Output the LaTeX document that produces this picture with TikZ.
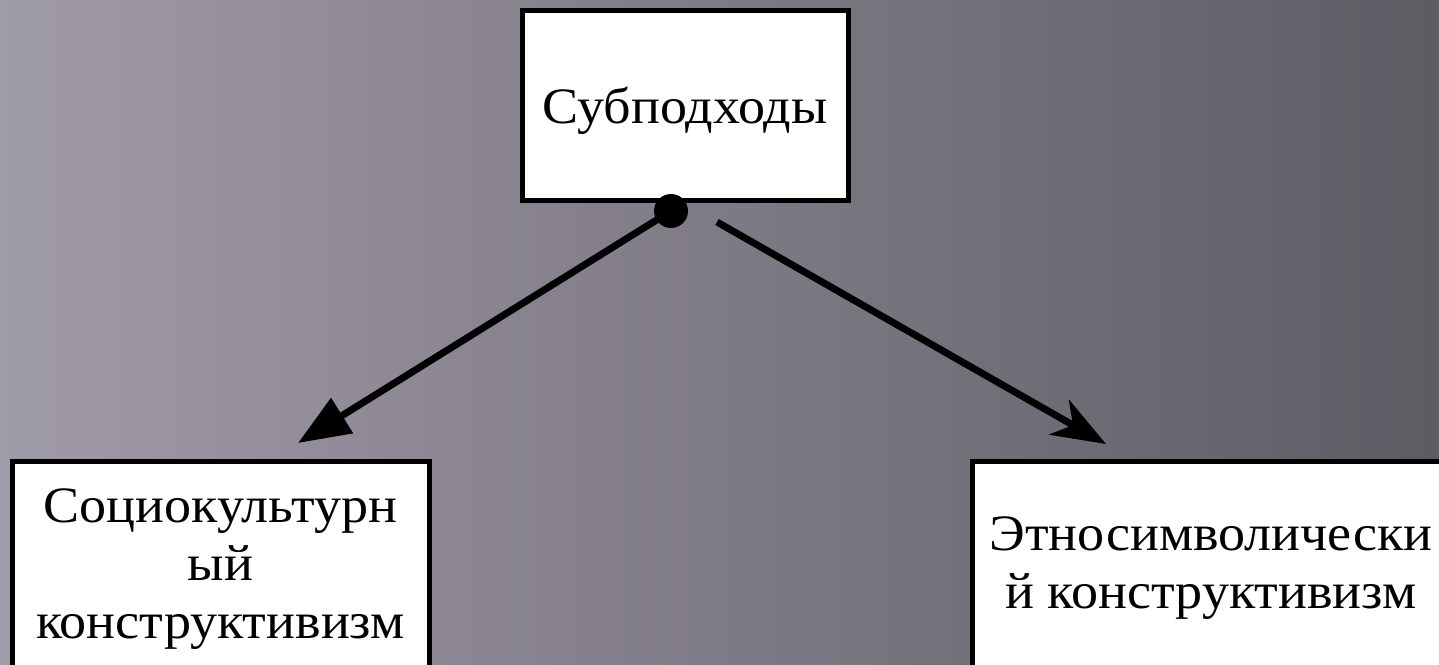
\documentclass[tikz,border=0pt]{standalone}
\usepackage{fontspec}
\setmainfont{Liberation Serif}[FakeStretch=1.06]
\usetikzlibrary{arrows.meta}
\definecolor{bgL}{RGB}{160,155,168}
\definecolor{bgM}{RGB}{122,117,128}
\definecolor{bgR}{RGB}{94,91,99}
\tikzset{
  box/.style={draw=black, fill=white, line width=5pt, inner sep=0pt, align=center,
    font=\fontsize{51pt}{58pt}\selectfont},
  conn/.style={line width=7pt, draw=black},
}
\begin{document}
\begin{tikzpicture}[x=1pt, y=-1pt]
\useasboundingbox (0,0) rectangle (1439,664);
\clip (0,0) rectangle (1439,664);
\shade[left color=bgL, middle color=bgM, right color=bgR] (0,0) rectangle (1439,664);
\node[box, minimum width=326pt, minimum height=190pt, text height=40pt, text depth=4pt] (top) at (685,105) {Субподходы};
\node[box, minimum width=417pt, minimum height=216pt] (left) at (220.5,569) {Социокультурн\\ый\\конструктивизм};
\node[box, minimum width=478pt, minimum height=214pt] (right) at (1211,568) {Этносимволически\\й конструктивизм};
\node[circle, fill=black, inner sep=0pt, minimum size=34pt] (dot) at (671,211) {};
\coordinate (ltip) at (298,443);
\coordinate (rstart) at (717,222);
\coordinate (rtip) at (1106,444);
\draw[conn, -{Triangle[length=52pt, width=40pt]}] (dot.center) -- (ltip);
\draw[conn, -{Stealth[length=54pt, width=40pt, inset=16pt]}] (rstart) -- (rtip);
\end{tikzpicture}
\end{document}
